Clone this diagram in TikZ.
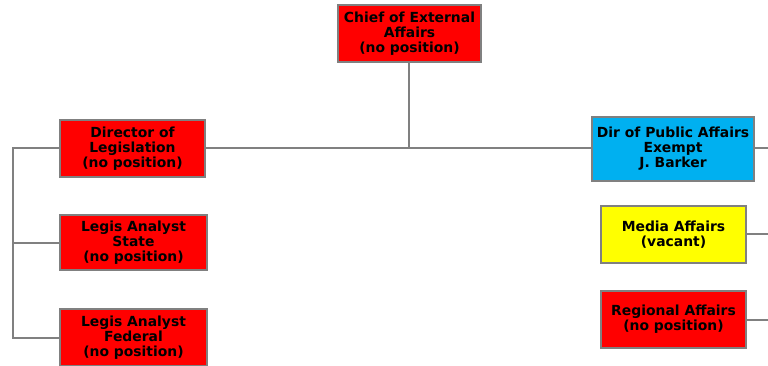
\documentclass[tikz,border=0pt]{standalone}
\usepackage{fontspec}
\setmainfont{DejaVu Sans}
\definecolor{boxred}{HTML}{FF0000}
\definecolor{boxcyan}{HTML}{00B0F0}
\definecolor{boxyellow}{HTML}{FFFF00}
\definecolor{linegray}{HTML}{808080}
\begin{document}
\begin{tikzpicture}[x=1pt,y=-1pt,
  orgbox/.style={draw=linegray, line width=1.6pt, align=center, inner sep=0pt,
    font=\fontsize{13.9}{15}\selectfont\bfseries, text=black},
  conn/.style={draw=linegray, line width=2pt}]
\useasboundingbox (0,0) rectangle (768,365);
\clip (0,0) rectangle (768,365);
\node[orgbox, fill=boxred, minimum width=143pt, minimum height=57pt] (chief) at (409.5,33.5) {Chief of External\\Affairs\\(no position)};
\node[orgbox, fill=boxred, minimum width=145pt, minimum height=57pt] (dirleg) at (132.5,148.5) {Director of\\Legislation\\(no position)};
\node[orgbox, fill=boxred, minimum width=147pt, minimum height=55pt] (state) at (133.5,242.5) {Legis Analyst\\State\\(no position)};
\node[orgbox, fill=boxred, minimum width=147pt, minimum height=57pt] (federal) at (133.5,337.5) {Legis Analyst\\Federal\\(no position)};
\node[orgbox, fill=boxcyan, minimum width=162pt, minimum height=64pt] (dirpub) at (673,149) {Dir of Public Affairs\\Exempt\\J. Barker};
\node[orgbox, fill=boxyellow, minimum width=145pt, minimum height=57pt] (media) at (673.5,234.5) {Media Affairs\\(vacant)};
\node[orgbox, fill=boxred, minimum width=145pt, minimum height=57pt] (regional) at (673.5,319.5) {Regional Affairs\\(no position)};
\coordinate (jn) at (409,148);
\coordinate (lbus) at (13,148);
\coordinate (lbusend) at (13,338);
\coordinate (lmid) at (13,243);
\coordinate (r1) at (768,148);
\coordinate (r2) at (768,234);
\coordinate (r3) at (768,320);
\draw[conn] (jn |- chief.south) -- (jn);
\draw[conn] (dirleg.east |- jn) -- (dirpub.west |- jn);
\draw[conn] (dirleg.west |- lbus) -- (lbus) -- (lbusend) -- (federal.west |- lbusend);
\draw[conn] (lmid) -- (state.west |- lmid);
\draw[conn] (dirpub.east |- r1) -- (r1);
\draw[conn] (media.east |- r2) -- (r2);
\draw[conn] (regional.east |- r3) -- (r3);
\end{tikzpicture}
\end{document}
